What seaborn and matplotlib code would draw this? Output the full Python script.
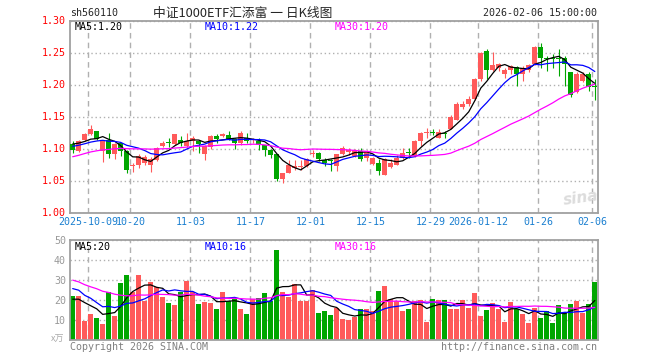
import numpy as np
import pandas as pd
import matplotlib
matplotlib.use('Agg')
import matplotlib.pyplot as plt
import seaborn as sns

# daily candles, 2025-09-26 .. 2026-02-06
open_ = [1.107, 1.096, 1.113, 1.122, 1.127, 1.096, 1.113, 1.091, 1.108, 1.096,
         1.072, 1.075, 1.077, 1.075, 1.082, 1.104, 1.109, 1.107, 1.114, 1.104,
         1.111, 1.112, 1.091, 1.102, 1.119, 1.120, 1.121, 1.115, 1.108, 1.117,
         1.113, 1.111, 1.105, 1.098, 1.091, 1.053, 1.062, 1.070, 1.071, 1.073,
         1.091, 1.093, 1.082, 1.082, 1.072, 1.091, 1.095, 1.089, 1.096, 1.085,
         1.076, 1.078, 1.059, 1.071, 1.075, 1.085, 1.094, 1.088, 1.112, 1.124,
         1.126, 1.117, 1.124, 1.131, 1.145, 1.165, 1.169, 1.177, 1.208, 1.253,
         1.222, 1.226, 1.216, 1.222, 1.227, 1.217, 1.223, 1.232, 1.258, 1.241,
         1.241, 1.241, 1.241, 1.219, 1.188, 1.206, 1.216, 1.197]
high = [1.112, 1.113, 1.124, 1.137, 1.128, 1.114, 1.125, 1.108, 1.109, 1.097,
        1.078, 1.092, 1.090, 1.086, 1.102, 1.112, 1.116, 1.123, 1.120, 1.125,
        1.119, 1.113, 1.106, 1.121, 1.122, 1.124, 1.127, 1.117, 1.127, 1.124,
        1.116, 1.117, 1.106, 1.099, 1.092, 1.062, 1.082, 1.082, 1.082, 1.085,
        1.097, 1.094, 1.085, 1.084, 1.092, 1.104, 1.101, 1.099, 1.101, 1.097,
        1.087, 1.083, 1.085, 1.083, 1.090, 1.101, 1.101, 1.114, 1.126, 1.132,
        1.130, 1.130, 1.127, 1.152, 1.172, 1.175, 1.182, 1.210, 1.251, 1.255,
        1.251, 1.234, 1.226, 1.231, 1.229, 1.229, 1.232, 1.260, 1.265, 1.244,
        1.247, 1.256, 1.244, 1.220, 1.220, 1.220, 1.220, 1.208]
low = [1.093, 1.094, 1.112, 1.121, 1.113, 1.079, 1.085, 1.083, 1.089, 1.061,
       1.064, 1.070, 1.074, 1.063, 1.080, 1.102, 1.102, 1.106, 1.104, 1.103,
       1.096, 1.093, 1.082, 1.100, 1.109, 1.118, 1.113, 1.099, 1.106, 1.108,
       1.108, 1.097, 1.089, 1.085, 1.049, 1.046, 1.061, 1.067, 1.067, 1.071,
       1.086, 1.081, 1.072, 1.065, 1.065, 1.090, 1.090, 1.087, 1.080, 1.080,
       1.075, 1.059, 1.058, 1.070, 1.074, 1.084, 1.085, 1.086, 1.104, 1.117,
       1.121, 1.116, 1.117, 1.130, 1.144, 1.162, 1.167, 1.176, 1.206, 1.208,
       1.221, 1.221, 1.210, 1.216, 1.197, 1.206, 1.220, 1.231, 1.226, 1.221,
       1.226, 1.213, 1.197, 1.181, 1.187, 1.204, 1.190, 1.176]
close = [1.097, 1.112, 1.123, 1.130, 1.115, 1.113, 1.091, 1.107, 1.096, 1.066,
         1.075, 1.089, 1.086, 1.083, 1.100, 1.108, 1.108, 1.122, 1.109, 1.111,
         1.117, 1.107, 1.104, 1.119, 1.115, 1.122, 1.115, 1.109, 1.124, 1.111,
         1.114, 1.106, 1.098, 1.090, 1.052, 1.061, 1.074, 1.073, 1.073, 1.083,
         1.093, 1.083, 1.078, 1.081, 1.091, 1.101, 1.098, 1.097, 1.083, 1.095,
         1.085, 1.065, 1.083, 1.078, 1.085, 1.093, 1.093, 1.112, 1.124, 1.126,
         1.125, 1.126, 1.122, 1.150, 1.169, 1.169, 1.177, 1.208, 1.249, 1.222,
         1.231, 1.232, 1.222, 1.229, 1.216, 1.226, 1.230, 1.258, 1.242, 1.240,
         1.240, 1.240, 1.232, 1.183, 1.217, 1.217, 1.196, 1.196]
volume = [22, 22, 9.5, 13.2, 11.2, 8.2, 24, 12, 28.7, 32.5,
          24, 32.5, 19.5, 29.2, 26.5, 21.5, 18.7, 17.5, 24, 29.5,
          24, 18.2, 19.2, 18.7, 15.7, 24, 19.5, 20.3, 15.7, 13.2,
          20.3, 21.2, 23.7, 19.5, 45, 24, 21.5, 27.8, 19.5, 19.5,
          24.8, 13.7, 14.5, 12.5, 15.8, 10.3, 9.8, 11.5, 15.3, 15.3,
          14.5, 24.5, 27, 20.3, 19.5, 14.5, 15.7, 19.5, 19.8, 9.2,
          20.3, 19.8, 19.8, 15.7, 15.7, 19.8, 16.2, 23.7, 12, 15,
          18.7, 15.7, 9.2, 19.2, 15.7, 13.2, 8.7, 16.2, 11.2, 14.5,
          8.5, 17.5, 14, 18.2, 19.5, 13.7, 18.2, 29.2]

# sessions before the window, only used to warm up the moving averages
pre_close = [1.045, 1.040, 1.055, 1.062, 1.070, 1.068, 1.075, 1.080, 1.078, 1.085,
             1.090, 1.088, 1.095, 1.092, 1.098, 1.100, 1.096, 1.090, 1.085, 1.088,
             1.095, 1.100, 1.104, 1.098, 1.102, 1.105, 1.110, 1.112, 1.111]
pre_volume = [48, 52, 45, 40, 46, 42, 38, 44, 41, 24,
              20, 22, 25, 19, 23, 21, 26, 22, 20, 23,
              30, 35, 28, 33, 29, 22, 18, 21, 19]

tick_idx = [3, 10, 20, 30, 40, 50, 60, 68, 78, 87]
tick_labels = ['2025-10-09', '10-20', '11-03', '11-17', '12-01',
               '12-15', '12-29', '2026-01-12', '01-26', '02-06']
price_ticks = [1.00, 1.05, 1.10, 1.15, 1.20, 1.25, 1.30]
vol_ticks = [10, 20, 30, 40, 50]

RED = '#ff5a5a'
GREEN = '#00a600'
FRAME = '#a0a0a0'

sns.set_style('white')
plt.rcParams['font.family'] = ['DejaVu Sans Mono', 'Noto Sans CJK SC']

df = pd.DataFrame({'open': open_, 'high': high, 'low': low,
                   'close': close, 'vol': volume})
df['i'] = np.arange(len(df))
df['dir'] = np.where(df['close'] >= df['open'], 'up', 'down')

n_pre = len(pre_close)
c_all = pd.Series(pre_close + close)
v_all = pd.Series(pre_volume + volume)
for w in (5, 10, 30):
    df['ma%d' % w] = c_all.rolling(w).mean().iloc[n_pre:].values
    df['vma%d' % w] = v_all.rolling(w).mean().iloc[n_pre:].values

W, H = 660, 360
fig = plt.figure(figsize=(6.6, 3.6), dpi=100)
ax = fig.add_axes([70 / W, 1 - 212.5 / H, 527.5 / W, 192 / H])
axv = fig.add_axes([70 / W, 1 - 340 / H, 527.5 / W, 100 / H])

# candles
colors = np.where(df['dir'] == 'up', RED, GREEN)
ax.vlines(df['i'], df['low'], df['high'], colors=colors, lw=0.8, zorder=2)
body_lo = np.minimum(df['open'], df['close'])
body_h = np.maximum((df['close'] - df['open']).abs(), 0.0014)
ax.bar(df['i'], body_h, bottom=body_lo, width=0.8, color=colors, linewidth=0, zorder=3)

# moving averages
for col, c in [('ma5', 'black'), ('ma10', '#0000ff'), ('ma30', '#ff00ff')]:
    sns.lineplot(x=df['i'], y=df[col], color=c, lw=0.9, ax=ax, zorder=4)
ax.set_xlim(-0.45, 87.45)
ax.set_ylim(1.00, 1.30)

# volume
sns.barplot(data=df, x='i', y='vol', hue='dir', palette={'up': RED, 'down': GREEN},
            native_scale=True, width=0.83, saturation=1, dodge=False,
            legend=False, linewidth=0, ax=axv)
for col, c in [('vma5', 'black'), ('vma10', '#0000ff'), ('vma30', '#ff00ff')]:
    sns.lineplot(x=df['i'], y=df[col], color=c, lw=0.9, ax=axv, zorder=4)
axv.set_xlim(-0.45, 87.45)
axv.set_ylim(0, 50)

gx = [t - 0.4 for t in tick_idx]
for a in (ax, axv):
    a.set_xlabel('')
    a.set_ylabel('')
    a.set_xticks(gx)
    a.grid(True, axis='x', color='#b0b0b0', lw=1.0, linestyle=(0, (4, 3)))
    a.grid(True, axis='y', color='#b0b0b0', lw=1.0, linestyle=(0, (1, 2)))
    for s in a.spines.values():
        s.set_color(FRAME)
        s.set_linewidth(1.3)
    a.tick_params(length=0)

ax.set_xticklabels(tick_labels, color='#1a7fd0', fontsize=7.2)
ax.tick_params(axis='x', pad=3)
ax.set_yticks(price_ticks)
ax.set_yticklabels(['%.2f' % p for p in price_ticks], color='#ff0000', fontsize=7.2)
ax.tick_params(axis='y', pad=3)

axv.set_xticklabels([])
axv.set_yticks([0] + vol_ticks)
axv.set_yticklabels([''] + [str(v) for v in vol_ticks], color='#999999', fontsize=7.2)
axv.tick_params(axis='y', pad=3)


def ftext(x, y, s, **kw):
    fig.text(x / W, 1 - y / H, s, **kw)


# header
ftext(70, 13, 'sh560110', fontsize=7.2, va='center')
ftext(243, 13, '中证1000ETF汇添富 一 日K线图', fontsize=9.2, ha='center', va='center',
      family=['Noto Sans CJK SC', 'DejaVu Sans'])
ftext(597, 13, '2026-02-06 15:00:00', fontsize=7.2, ha='right', va='center')

# MA legends
ma_cols = ['black', '#0000ff', '#ff00ff']
ma_txt = ['MA5:%.2f' % df['ma5'].iloc[-1], 'MA10:%.2f' % df['ma10'].iloc[-1],
          'MA30:%.2f' % df['ma30'].iloc[-1]]
vma_txt = ['MA5:%.0f' % df['vma5'].iloc[-1], 'MA10:%.0f' % df['vma10'].iloc[-1],
           'MA30:%.0f' % df['vma30'].iloc[-1]]
for x0, c, t1, t2 in zip([75, 205, 335], ma_cols, ma_txt, vma_txt):
    ftext(x0, 26.5, t1, fontsize=7.2, color=c, va='center')
    ftext(x0, 246.5, t2, fontsize=7.2, color=c, va='center')

ftext(64, 339, 'x万', fontsize=6.5, color='#aaaaaa', ha='right', va='center',
      family=['Noto Sans CJK SC', 'DejaVu Sans'])

# footer
ftext(70, 346.5, 'Copyright 2026 SINA.COM', fontsize=7.2, color='#808080', va='center')
ftext(597, 346.5, 'http://finance.sina.com.cn', fontsize=7.2, color='#808080',
      ha='right', va='center')

# watermark
ftext(581, 198, 'sina', fontsize=11, color='#dcdcdc', ha='center', va='center',
      fontweight='bold', style='italic', family='DejaVu Sans', rotation=8)

fig.savefig('out.png', dpi=100)
